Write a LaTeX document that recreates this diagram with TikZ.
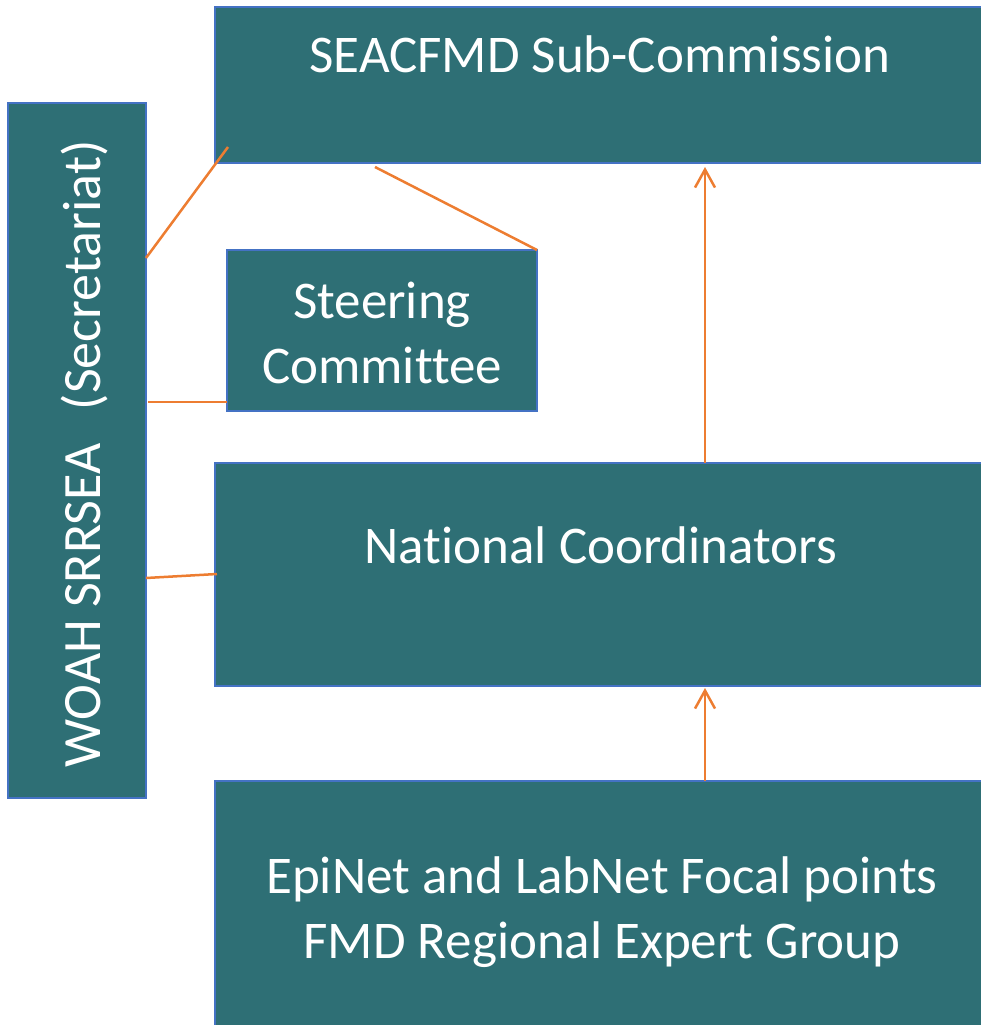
\documentclass[tikz,border=0pt]{standalone}
\usepackage{fontspec}
\setmainfont{Carlito}[Ligatures={NoCommon}]
\usetikzlibrary{arrows.meta,calc}
\definecolor{boxfill}{HTML}{2E6F75}
\definecolor{boxline}{HTML}{4472C4}
\definecolor{connc}{HTML}{ED7D31}
\begin{document}
\begin{tikzpicture}[x=1pt,y=-1pt,
  box/.style={draw=boxline,fill=boxfill,line width=2pt,inner sep=0pt,outer sep=0pt,anchor=north west},
  lbl/.style={text=white,font=\fontsize{53}{65}\selectfont,align=center,inner sep=0pt},
  conn/.style={draw=connc,line width=2.5pt},
  arr/.style={conn,-{Straight Barb[length=18pt,width=20pt]}}]
\useasboundingbox (0,0) rectangle (981,1025);
\clip (0,0) rectangle (981,1025);
\node[box,minimum width=800pt,minimum height=156pt] (sea) at (215,7) {};
\node[box,minimum width=138pt,minimum height=695pt] (woah) at (8,103) {};
\node[box,minimum width=310pt,minimum height=161pt] (steer) at (227,250) {};
\node[box,minimum width=800pt,minimum height=223pt] (nat) at (215,463) {};
\node[box,minimum width=800pt,minimum height=300pt] (epi) at (215,781) {};
\node[lbl,anchor=base] (seat) at (600,73) {SEACFMD Sub-Commission};
\node[lbl,anchor=base] (natt) at (601,563) {National Coordinators};
\node[lbl,anchor=base] (steert) at (382,383) {Steering\\Committee};
\node[lbl,anchor=base] (epit) at (602,958) {EpiNet and LabNet Focal points\\FMD Regional Expert Group};
\node[lbl,anchor=base,rotate=90,font=\fontsize{54}{65}\selectfont] (woaht) at (100,454) {WOAH SRRSEA\hspace{33pt}(Secretariat)};
\draw[conn] ($(woah.north east)+(0,155)$) -- ($(sea.south west)+(13,-16)$);
\draw[conn] ($(sea.south west)+(160,4)$) -- (steer.north east);
\draw[conn] ($(woah.north east)+(2,299)$) -- ($(steer.south west)+(0,-9)$);
\draw[conn] ($(woah.east)+(0,127.5)$) -- ($(nat.west)+(2,-0.5)$);
\draw[arr] ($(nat.north west)+(490,0)$) -- ($(sea.south west)+(490,4)$);
\draw[arr] ($(epi.north west)+(490,0)$) -- ($(nat.south west)+(490,2)$);
\end{tikzpicture}
\end{document}
